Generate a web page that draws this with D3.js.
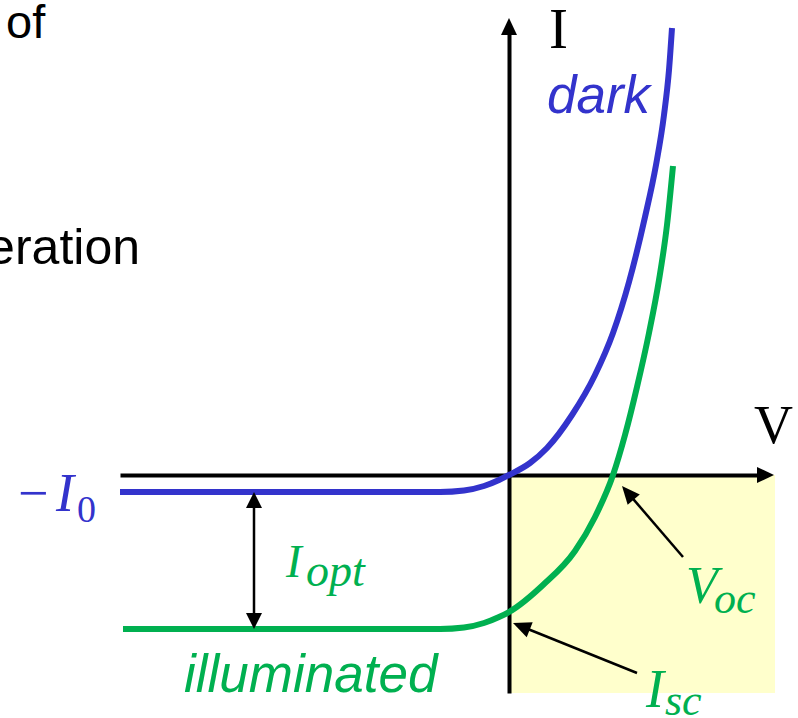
<!DOCTYPE html>
<html>
<head>
<meta charset="utf-8">
<script src="https://cdn.jsdelivr.net/npm/d3@7/dist/d3.min.js"></script>
<style>
  body { margin: 0; background: #fff; }
  svg { display: block; }
  .sans { font-family: Arial, "Liberation Sans", sans-serif; }
  .math { font-family: "Times New Roman", "Liberation Serif", serif; }
</style>
</head>
<body>
<div id="chart"></div>
<script>

// I-V curves of a solar cell, arbitrary units (origin at V = 0, I = 0)
const darkV  = [-3.89, -0.69, -0.45, -0.25, -0.10, 0.00, 0.21, 0.38, 0.63, 0.86, 1.04, 1.20, 1.36, 1.47, 1.55, 1.60, 1.63];
const darkI  = [-0.17, -0.17, -0.155, -0.11, -0.05, 0.00, 0.12, 0.27, 0.60, 1.00, 1.42, 1.93, 2.58, 3.10, 3.60, 4.05, 4.47];

const illumV = [-3.86, -0.69, -0.45, -0.25, -0.10, 0.00, 0.34, 0.66, 0.86, 1.04, 1.16, 1.28, 1.40, 1.50, 1.58, 1.64];
const illumI = [-1.54, -1.54, -1.525, -1.48, -1.42, -1.37, -1.10, -0.76, -0.42, 0.00, 0.40, 0.88, 1.42, 1.95, 2.50, 3.09];

// marked points: reverse saturation level, short circuit, open circuit
const iDark = -0.17;
const iIllum = -1.54;
const iOptAt = -2.55;          // V where the I_opt arrow is drawn
const vocPoint = [1.04, 0];
const iscPoint = [0, -1.37];

const width = 798, height = 718;
const blue = "#3333cc", green = "#00b050";

const svg = d3.select("#chart").append("svg")
    .attr("width", width)
    .attr("height", height);

const x = d3.scaleLinear().domain([-3.89, 2.66]).range([120, 775]);
const y = d3.scaleLinear().domain([-2.18, 4.57]).range([693, 18]);

// fourth quadrant (power delivered)
svg.append("rect")
    .attr("x", x(0))
    .attr("y", y(0))
    .attr("width", x(2.66) - x(0))
    .attr("height", y(-2.18) - y(0))
    .attr("fill", "#ffffcc");

// partial slide text cut by the left edge
svg.append("text").attr("class", "sans")
    .attr("x", 6).attr("y", 38)
    .attr("font-size", 47)
    .text("of");
svg.append("text").attr("class", "sans")
    .attr("x", 140).attr("y", 264)
    .attr("text-anchor", "end")
    .attr("font-size", 50)
    .text("eration");

// axes, no ticks
const xAxisScale = x.copy().domain([-3.89, 2.52]).range([x(-3.89), x(2.52)]);
const yAxisScale = y.copy().domain([-2.18, 4.42]).range([y(-2.18), y(4.42)]);

svg.append("g")
    .attr("transform", "translate(0," + y(0) + ")")
    .call(d3.axisBottom(xAxisScale).tickValues([]).tickSizeOuter(0));
svg.append("g")
    .attr("transform", "translate(" + x(0) + ",0)")
    .call(d3.axisLeft(yAxisScale).tickValues([]).tickSizeOuter(0));
svg.selectAll(".domain").attr("stroke", "#000").attr("stroke-width", 4);

function arrowHead(tip, tail, len, half) {
    const dx = tip[0] - tail[0], dy = tip[1] - tail[1];
    const d = Math.hypot(dx, dy), ux = dx / d, uy = dy / d;
    const bx = tip[0] - ux * len, by = tip[1] - uy * len;
    svg.append("path")
        .attr("d", "M" + tip[0] + "," + tip[1] +
            "L" + (bx - uy * half) + "," + (by + ux * half) +
            "L" + (bx + uy * half) + "," + (by - ux * half) + "Z")
        .attr("fill", "#000");
}

function arrow(tail, tip, len, half) {
    const dx = tip[0] - tail[0], dy = tip[1] - tail[1];
    const d = Math.hypot(dx, dy);
    svg.append("line")
        .attr("x1", tail[0]).attr("y1", tail[1])
        .attr("x2", tip[0] - dx / d * (len - 2)).attr("y2", tip[1] - dy / d * (len - 2))
        .attr("stroke", "#000").attr("stroke-width", 2.5);
    arrowHead(tip, tail, len, half);
}

arrowHead([x(2.65), y(0)], [x(0), y(0)], 17, 8);
arrowHead([x(0), y(4.57)], [x(0), y(0)], 17, 8);

// axis letters
svg.append("text").attr("class", "math")
    .attr("x", 549).attr("y", 48)
    .attr("font-size", 57)
    .text("I");
svg.append("text").attr("class", "math")
    .attr("x", 754).attr("y", 443)
    .attr("font-size", 54)
    .text("V");

// curves
const line = d3.line()
    .x(d => x(d[0]))
    .y(d => y(d[1]))
    .curve(d3.curveMonotoneX);

svg.append("path")
    .datum(d3.zip(darkV, darkI))
    .attr("d", line)
    .attr("fill", "none")
    .attr("stroke", blue)
    .attr("stroke-width", 6);

svg.append("path")
    .datum(d3.zip(illumV, illumI))
    .attr("d", line)
    .attr("fill", "none")
    .attr("stroke", green)
    .attr("stroke-width", 6);

// I_opt double arrow between the two saturation levels
const ax = x(iOptAt);
svg.append("line")
    .attr("x1", ax).attr("y1", y(iDark) + 14)
    .attr("x2", ax).attr("y2", y(iIllum) - 14)
    .attr("stroke", "#000").attr("stroke-width", 2.5);
arrowHead([ax, y(iDark)], [ax, y(iIllum)], 16, 8);
arrowHead([ax, y(iIllum)], [ax, y(iDark)], 16, 8);

// Voc and Isc pointers
arrow([x(vocPoint[0]) + 70, y(vocPoint[1]) + 82], [x(vocPoint[0]) + 9, y(vocPoint[1]) + 11], 18, 8);
arrow([x(iscPoint[0]) + 128, y(iscPoint[1]) + 61], [x(iscPoint[0]) + 4, y(iscPoint[1]) + 11], 18, 8);

// curve names
svg.append("text").attr("class", "sans")
    .attr("x", 547).attr("y", 113)
    .attr("font-size", 53)
    .attr("font-style", "italic")
    .attr("fill", blue)
    .text("dark");
svg.append("text").attr("class", "sans")
    .attr("x", 184).attr("y", 692)
    .attr("font-size", 53)
    .attr("font-style", "italic")
    .attr("fill", green)
    .text("illuminated");

// math labels
function mathLabel(px, py, main, sub, color, size, subSize, subX, subDy, subItalic, prefix) {
    const t = svg.append("text").attr("class", "math")
        .attr("x", px).attr("y", py)
        .attr("fill", color)
        .attr("font-size", size);
    if (prefix) {
        t.append("tspan").text(prefix.text);
        t.append("tspan").attr("x", prefix.mainX).attr("font-style", "italic").text(main);
    } else {
        t.append("tspan").attr("font-style", "italic").text(main);
    }
    t.append("tspan")
        .attr("x", subX)
        .attr("dy", subDy)
        .attr("font-size", subSize)
        .attr("font-style", subItalic ? "italic" : "normal")
        .text(sub);
}

mathLabel(18, 511, "I", "0", blue, 54, 38, 77, 11, false, { text: "\u2212", mainX: 56 });
mathLabel(286, 577, "I", "opt", green, 47, 46, 306, 9, true);
mathLabel(686, 603, "V", "oc", green, 52, 44, 714, 10, true);
mathLabel(646, 707, "I", "sc", green, 54, 44, 665, 8, true);

</script>
</body>
</html>
